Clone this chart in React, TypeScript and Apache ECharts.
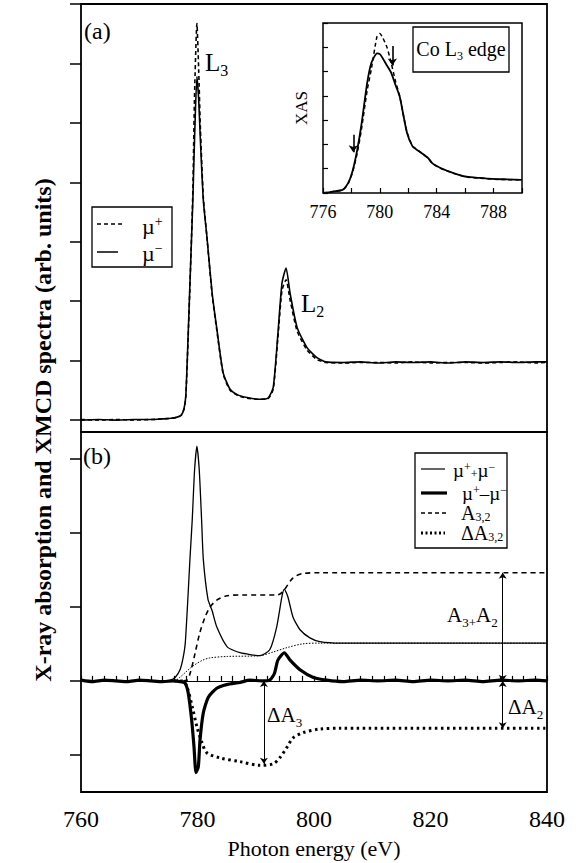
import React, { useEffect, useRef } from "react";
import * as echarts from "echarts";

const FONT = "Liberation Serif";

// ---------- Panel (a): XAS spectra ----------
const aEnergy = [760, 763, 766, 769, 772, 774, 775.5, 776.5, 777.2, 777.7, 778.0, 778.4, 778.9, 779.2, 779.5, 779.9, 780.2, 780.5, 781.0, 781.6, 782.5, 783.3, 784.4, 785.6, 787.0, 788.5, 790.7, 792.1, 793.0, 793.8, 794.5, 795.2, 795.9, 797.1, 798.8, 800.5, 802, 805, 808, 811, 814, 817, 820, 823, 826, 829, 832, 835, 838, 840];
const aMuMinus = [0.00, 0.01, 0.00, 0.01, 0.01, 0.02, 0.03, 0.05, 0.08, 0.20, 0.42, 1.45, 2.85, 3.70, 4.75, 5.78, 5.40, 4.70, 3.70, 3.10, 2.15, 1.55, 0.80, 0.52, 0.42, 0.38, 0.35, 0.37, 0.55, 1.45, 2.30, 2.56, 2.13, 1.56, 1.22, 1.05, 0.98, 0.97, 0.98, 0.96, 0.98, 0.97, 0.98, 0.96, 0.98, 0.97, 0.98, 0.97, 0.98, 0.98];
const aMuPlus = [0.01, 0.00, 0.01, 0.00, 0.01, 0.02, 0.03, 0.05, 0.08, 0.19, 0.40, 1.40, 2.85, 3.85, 5.50, 6.67, 5.90, 4.90, 3.75, 3.10, 2.12, 1.52, 0.78, 0.50, 0.41, 0.37, 0.35, 0.36, 0.52, 1.38, 2.18, 2.36, 2.02, 1.50, 1.18, 1.02, 0.97, 0.96, 0.97, 0.97, 0.96, 0.98, 0.96, 0.97, 0.97, 0.96, 0.97, 0.98, 0.96, 0.97];
const aYTicks = [0, 1, 2, 3, 4, 5, 6, 7];

// ---------- Inset: Co L3 edge ----------
const insetEnergy = [776, 776.6, 777.4, 777.8, 778.1, 778.4, 778.7, 779.1, 779.4, 779.8, 780.0, 780.2, 780.5, 780.8, 781.1, 781.4, 781.9, 782.3, 782.7, 783.0, 783.4, 783.7, 784.3, 784.9, 785.5, 786.1, 787.0, 787.9, 789.0, 790.0];
const insetMuMinus = [0.00, 0.05, 0.14, 0.45, 0.95, 1.75, 2.80, 4.50, 5.35, 5.75, 5.72, 5.55, 5.25, 4.95, 4.45, 3.96, 2.50, 1.92, 1.74, 1.62, 1.44, 1.22, 1.02, 0.88, 0.76, 0.67, 0.62, 0.58, 0.56, 0.54];
const insetMuPlus = [0.00, 0.05, 0.13, 0.42, 0.90, 1.62, 2.60, 4.20, 5.10, 6.45, 6.57, 6.40, 6.00, 5.35, 4.60, 3.98, 2.52, 1.94, 1.75, 1.62, 1.43, 1.21, 1.01, 0.87, 0.75, 0.66, 0.61, 0.57, 0.55, 0.54];
const insetXLabels = [776, 780, 784, 788];
const insetXTicks = [776, 778, 780, 782, 784, 786, 788, 790];
const insetArrows = [
  { x: 778.13, from: 2.4, to: 1.68 },
  { x: 780.88, from: 6.05, to: 5.25 },
];

// ---------- Panel (b): sum, XMCD, integrals ----------
const bSumEnergy = [760, 764, 768, 772, 774, 775.3, 776.2, 777.0, 777.5, 777.9, 778.4, 778.7, 779.1, 779.5, 779.9, 780.3, 780.7, 781.0, 781.8, 782.5, 783.3, 785.1, 787.3, 790.7, 792.4, 793.6, 794.5, 794.9, 795.5, 796.4, 797.6, 799.3, 801.0, 804.5, 810, 816, 822, 828, 834, 840];
const bSum = [0.00, 0.00, 0.00, 0.00, 0.00, 0.01, 0.05, 0.15, 0.30, 0.51, 1.19, 1.64, 2.18, 2.85, 3.17, 2.85, 2.18, 1.64, 1.10, 0.95, 0.73, 0.46, 0.38, 0.34, 0.42, 0.73, 1.14, 1.24, 1.14, 0.86, 0.69, 0.58, 0.53, 0.51, 0.51, 0.51, 0.51, 0.51, 0.51, 0.51];

const bDiffEnergy = [760, 762, 764, 766, 768, 770, 772, 774, 776, 777.0, 777.85, 778.4, 779.0, 779.4, 779.74, 780.14, 780.43, 781.0, 781.86, 783.3, 785.0, 787.3, 789, 791, 792.4, 793.2, 793.8, 794.9, 795.9, 797.6, 799.8, 802.2, 805, 808, 811, 814, 817, 820, 823, 826, 829, 832, 835, 838, 840];
const bDiff = [0.01, -0.01, 0.01, 0.00, -0.01, 0.01, 0.00, -0.01, 0.00, -0.01, -0.03, -0.16, -0.53, -0.89, -1.24, -1.16, -0.80, -0.43, -0.22, -0.10, -0.05, -0.02, 0.01, 0.00, 0.01, 0.10, 0.28, 0.38, 0.28, 0.15, 0.05, 0.01, -0.01, 0.01, 0.00, 0.01, -0.01, 0.01, 0.00, 0.01, -0.01, 0.01, 0.00, 0.01, 0.00];

const bA32Energy = [776, 777.5, 778.2, 778.8, 779.6, 780.4, 781.3, 782.1, 783.3, 785.1, 787.8, 793.6, 794.3, 795.0, 796.4, 798.1, 801.0, 840];
const bA32 = [0, 0, 0.01, 0.12, 0.38, 0.65, 0.86, 0.99, 1.09, 1.15, 1.16, 1.16, 1.18, 1.24, 1.39, 1.45, 1.46, 1.46];

const bDA32Energy = [776, 777.5, 778.2, 779.1, 779.9, 780.8, 781.6, 783.9, 787.3, 790.7, 793.0, 794.2, 795.4, 796.4, 798.1, 801.0, 804.5, 840];
const bDA32 = [0, 0, -0.08, -0.35, -0.62, -0.84, -0.97, -1.04, -1.09, -1.14, -1.12, -1.03, -0.89, -0.77, -0.70, -0.65, -0.64, -0.64];

const bStepEnergy = [760, 776, 777, 778, 779.2, 780.9, 782.1, 785.1, 790.7, 793, 795.4, 798.1, 801, 840];
const bStep = [0, 0, 0.05, 0.12, 0.20, 0.28, 0.31, 0.33, 0.34, 0.39, 0.45, 0.50, 0.51, 0.51];

const bYTicks = [-1, 0, 1, 2, 3];
const xTickLabels = [760, 780, 800, 820, 840];

// annotation arrows (data coordinates)
const arrowDA3 = { x: 791.4, from: 0, to: -1.12 };
const arrowA3A2 = { x: 832.4, from: 1.46, to: 0 };
const arrowDA2 = { x: 832.4, from: 0, to: -0.64 };

const zip = (xs: number[], ys: number[]) => xs.map((x, i) => [x, ys[i]]);

const rich = (size: number, lh?: number) => ({
  n: { fontSize: size, fontFamily: FONT, lineHeight: lh || Math.round(size * 1.3), fill: "#000", color: "#000" },
  sb: { fontSize: Math.round(size * 0.62), fontFamily: FONT, verticalAlign: "bottom", fill: "#000", color: "#000" },
  sp: { fontSize: Math.round(size * 0.62), fontFamily: FONT, verticalAlign: "top", fill: "#000", color: "#000" },
});

const txt = (x: number, y: number, text: string, size: number, align = "left", lh?: number) => ({
  type: "text",
  x,
  y,
  silent: true,
  z: 100,
  style: {
    text,
    rich: rich(size, lh),
    fill: "#000",
    fontFamily: FONT,
    fontSize: size,
    align,
    verticalAlign: "middle",
  },
});

const hline = (x1: number, x2: number, y: number, w: number, dash?: number[]) => ({
  type: "line",
  silent: true,
  z: 100,
  shape: { x1, y1: y, x2, y2: y },
  style: { stroke: "#000", lineWidth: w, lineDash: dash || null },
});

const box = (x: number, y: number, width: number, height: number) => ({
  type: "rect",
  silent: true,
  z: 99,
  shape: { x, y, width, height },
  style: { fill: "#fff", stroke: "#000", lineWidth: 1.3 },
});

const arrowLine = (a: { x: number; from: number; to: number }) => [
  { coord: [a.x, a.from] },
  { coord: [a.x, a.to] },
];

export default function App() {
  const ref = useRef<HTMLDivElement>(null);
  useEffect(() => {
    const chart = echarts.init(ref.current!, null, { renderer: "svg" });
    const blackText = { color: "#000", fontFamily: FONT };
    const option: any = {
      animation: false,
      backgroundColor: "#fff",
      textStyle: { fontFamily: FONT, color: "#000" },
      grid: [
        { left: 81, top: 4, width: 466, height: 428, show: true, borderColor: "#000", borderWidth: 1.8, backgroundColor: "transparent" },
        { left: 81, top: 432, width: 466, height: 360, show: true, borderColor: "#000", borderWidth: 1.8, backgroundColor: "transparent" },
        { left: 323, top: 23, width: 199, height: 170, show: true, borderColor: "#000", borderWidth: 1.5, backgroundColor: "#fff" },
      ],
      xAxis: [
        { type: "value", gridIndex: 0, min: 760, max: 840, show: false },
        {
          type: "value", gridIndex: 1, min: 760, max: 840, interval: 20,
          axisLine: { show: false },
          axisTick: { show: true, inside: true, length: 5, lineStyle: { color: "#000", width: 1.2 } },
          minorTick: { show: true, splitNumber: 10, length: 5, lineStyle: { color: "#000", width: 1.2 } },
          splitLine: { show: false },
          axisLabel: { ...blackText, fontSize: 24, margin: 15, customValues: xTickLabels },
          name: "Photon energy (eV)", nameLocation: "middle", nameGap: 45,
          nameTextStyle: { ...blackText, fontSize: 22 },
        },
        {
          type: "value", gridIndex: 2, min: 776, max: 790, interval: 4,
          axisLine: { show: false },
          axisTick: { show: true, inside: true, length: 5, customValues: insetXTicks, lineStyle: { color: "#000", width: 1.2 } },
          splitLine: { show: false },
          axisLabel: { ...blackText, fontSize: 18, margin: 10, customValues: insetXLabels },
        },
      ],
      yAxis: [
        {
          type: "value", gridIndex: 0, min: -0.2, max: 7,
          axisLine: { show: false },
          axisTick: { show: true, inside: false, length: 11, customValues: aYTicks, lineStyle: { color: "#000", width: 1.5 } },
          axisLabel: { show: false },
          splitLine: { show: false },
        },
        {
          type: "value", gridIndex: 1, min: -1.5, max: 3.36,
          axisLine: { show: false },
          axisTick: { show: true, inside: false, length: 11, customValues: bYTicks, lineStyle: { color: "#000", width: 1.5 } },
          axisLabel: { show: false },
          splitLine: { show: false },
        },
        {
          type: "value", gridIndex: 2, min: 0, max: 7, interval: 1,
          axisLine: { show: false },
          axisTick: { show: true, inside: true, length: 5, lineStyle: { color: "#000", width: 1.2 } },
          axisLabel: { show: false },
          splitLine: { show: false },
          name: "XAS", nameLocation: "middle", nameGap: 13, nameRotate: 90,
          nameTextStyle: { ...blackText, fontSize: 17 },
        },
      ],
      series: [
        {
          name: "mu+", type: "line", xAxisIndex: 0, yAxisIndex: 0, data: zip(aEnergy, aMuPlus),
          showSymbol: false, smooth: 0.2, silent: true,
          lineStyle: { color: "#000", width: 1.6, type: [4, 3] },
        },
        {
          name: "mu-", type: "line", xAxisIndex: 0, yAxisIndex: 0, data: zip(aEnergy, aMuMinus),
          showSymbol: false, smooth: 0.2, silent: true,
          lineStyle: { color: "#000", width: 1.6 },
        },
        {
          name: "inset mu+", type: "line", xAxisIndex: 2, yAxisIndex: 2, data: zip(insetEnergy, insetMuPlus),
          showSymbol: false, smooth: 0.2, silent: true, z: 5,
          lineStyle: { color: "#000", width: 1.5, type: [4, 3] },
        },
        {
          name: "inset mu-", type: "line", xAxisIndex: 2, yAxisIndex: 2, data: zip(insetEnergy, insetMuMinus),
          showSymbol: false, smooth: 0.2, silent: true, z: 5,
          lineStyle: { color: "#000", width: 1.8 },
          markLine: {
            silent: true, symbol: ["none", "arrow"], symbolSize: 7,
            label: { show: false },
            lineStyle: { color: "#000", width: 1.6, type: "solid" },
            data: insetArrows.map(arrowLine),
          },
        },
        {
          name: "sum", type: "line", xAxisIndex: 1, yAxisIndex: 1, data: zip(bSumEnergy, bSum),
          showSymbol: false, smooth: 0.2, silent: true,
          lineStyle: { color: "#000", width: 1.3 },
        },
        {
          name: "step", type: "line", xAxisIndex: 1, yAxisIndex: 1, data: zip(bStepEnergy, bStep),
          showSymbol: false, smooth: 0.3, silent: true,
          lineStyle: { color: "#000", width: 1, type: [1.5, 1.5] },
        },
        {
          name: "A32", type: "line", xAxisIndex: 1, yAxisIndex: 1, data: zip(bA32Energy, bA32),
          showSymbol: false, smooth: 0.3, silent: true,
          lineStyle: { color: "#000", width: 1.6, type: [5, 4] },
        },
        {
          name: "dA32", type: "line", xAxisIndex: 1, yAxisIndex: 1, data: zip(bDA32Energy, bDA32),
          showSymbol: false, smooth: 0.3, silent: true,
          lineStyle: { color: "#000", width: 3, type: [2.5, 3.5] },
          markLine: {
            silent: true, symbol: ["arrow", "arrow"], symbolSize: 6,
            label: { show: false },
            lineStyle: { color: "#000", width: 1, type: "solid" },
            data: [arrowLine(arrowDA3), arrowLine(arrowA3A2), arrowLine(arrowDA2)],
          },
        },
        {
          name: "diff", type: "line", xAxisIndex: 1, yAxisIndex: 1, data: zip(bDiffEnergy, bDiff),
          showSymbol: false, smooth: 0.2, silent: true,
          lineStyle: { color: "#000", width: 3.2 },
          markLine: {
            silent: true, symbol: ["none", "none"],
            label: { show: false },
            lineStyle: { color: "#000", width: 1, type: "solid" },
            data: [{ yAxis: 0 }],
          },
        },
      ],
      graphic: [
        {
          type: "text", x: 43, y: 430, rotation: Math.PI / 2, silent: true,
          style: {
            text: "X-ray absorption and XMCD spectra (arb. units)",
            fill: "#000", fontFamily: FONT, fontSize: 24, fontWeight: "bold",
            align: "center", verticalAlign: "middle",
          },
        },
        txt(84, 31, "{n|(a)}", 24),
        txt(205, 62, "{n|L}{sb|3}", 25),
        txt(301, 303, "{n|L}{sb|2}", 25),
        txt(83, 456, "{n|(b)}", 24),
        // legend (a)
        box(92, 207, 80, 60),
        hline(97, 125, 224, 1.5, [4, 3]),
        hline(97, 118, 252, 1.5),
        txt(142, 226, "{n|µ}{sp|+}", 22, "left", 24),
        txt(142, 253, "{n|µ}{sp|−}", 22, "left", 24),
        // inset label
        box(413, 27, 96, 45),
        txt(461, 49, "{n|Co L}{sb|3}{n| edge}", 20, "center"),
        // legend (b)
        box(415, 453, 92, 95),
        hline(421, 445, 469, 1.2),
        hline(421, 447, 493, 3.2),
        hline(421, 447, 513, 1.5, [4, 3]),
        hline(421, 445, 533, 3, [2, 2.5]),
        txt(453, 470, "{n|µ}{sp|+}{sb|+}{n|µ}{sp|−}", 19, "left", 19),
        txt(462, 493, "{n|µ}{sp|+}{n|–µ}{sp|−}", 19, "left", 19),
        txt(461, 513, "{n|A}{sb|3,2}", 20, "left", 19),
        txt(461, 533, "{n|ΔA}{sb|3,2}", 20, "left", 19),
        // annotations
        txt(447, 615, "{n|A}{sb|3}{sb|+}{n|A}{sb|2}", 21),
        txt(267, 715, "{n|ΔA}{sb|3}", 21),
        txt(508, 707, "{n|ΔA}{sb|2}", 21),
      ],
    };
    chart.setOption(option);
    return () => chart.dispose();
  }, []);
  return (
    <div
      ref={ref}
      style={{ position: "absolute", left: 0, top: 0, width: 580, height: 863, background: "#fff" }}
    />
  );
}
